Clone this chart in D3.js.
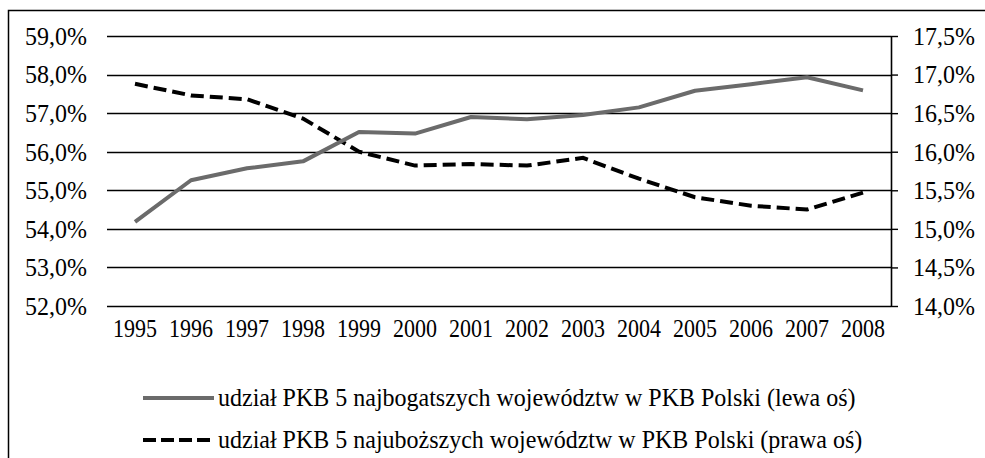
<!DOCTYPE html>
<html>
<head>
<meta charset="utf-8">
<script src="https://cdn.jsdelivr.net/npm/d3@7"></script>
<style>
  body { margin: 0; background: #fff; }
  text { font-family: "Liberation Serif", "Times New Roman", serif; fill: #000; }
</style>
</head>
<body>
<div id="chart"></div>
<script>
var years = ["1995","1996","1997","1998","1999","2000","2001","2002","2003","2004","2005","2006","2007","2008"];
// left axis series (gray)
var richest = [54.18, 55.26, 55.57, 55.75, 56.51, 56.47, 56.90, 56.84, 56.95, 57.15, 57.58, 57.75, 57.93, 57.59];
// right axis series (dashed)
var poorest = [16.88, 16.73, 16.68, 16.43, 16.00, 15.82, 15.84, 15.82, 15.92, 15.65, 15.41, 15.30, 15.25, 15.47];
var leftTicks = [52, 53, 54, 55, 56, 57, 58, 59];
var rightTicks = [14.0, 14.5, 15.0, 15.5, 16.0, 16.5, 17.0, 17.5];
var legendLabels = [
  "udział PKB 5 najbogatszych województw w PKB Polski (lewa oś)",
  "udział PKB 5 najuboższych województw w PKB Polski (prawa oś)"
];

var W = 985, H = 458;
var margin = {top: 36, right: 94, bottom: 152, left: 107},
    width = W - margin.left - margin.right,
    height = H - margin.top - margin.bottom;

var svg = d3.select("#chart").append("svg")
    .attr("width", W)
    .attr("height", H);

// outer frame, runs off the right and bottom edge
svg.append("rect")
    .attr("x", 8.5).attr("y", 10.5)
    .attr("width", W + 20).attr("height", H + 20)
    .attr("fill", "none")
    .attr("stroke", "#000")
    .attr("stroke-width", 1.5);

var g = svg.append("g")
    .attr("transform", "translate(" + margin.left + "," + margin.top + ")");

var xScale = d3.scaleBand().domain(years).range([0, width]),
    yLeft = d3.scaleLinear().domain([52, 59]).range([height, 0]),
    yRight = d3.scaleLinear().domain([14, 17.5]).range([height, 0]);

var fmt = function(n) { return n.toFixed(1).replace(".", ",") + "%"; };

// gridlines
g.selectAll(".grid")
    .data(leftTicks)
    .enter().append("line")
    .attr("class", "grid")
    .attr("x1", 0).attr("x2", width)
    .attr("y1", function(d) { return Math.round(yLeft(d)) + 0.5; })
    .attr("y2", function(d) { return Math.round(yLeft(d)) + 0.5; })
    .attr("stroke", "#000")
    .attr("stroke-width", 1.4);

// left axis: labels only
var left = g.append("g")
    .attr("class", "y axis")
    .call(d3.axisLeft(yLeft).tickValues(leftTicks).tickFormat(fmt).tickSize(0).tickPadding(20));
left.select(".domain").remove();

// right axis with line and outer ticks
var right = g.append("g")
    .attr("class", "y2 axis")
    .attr("transform", "translate(" + width + ",0)")
    .call(d3.axisRight(yRight).tickValues(rightTicks).tickFormat(fmt).tickSize(7).tickSizeOuter(0).tickPadding(15));
right.select(".domain").attr("stroke-width", 1.6);
right.selectAll(".tick line").attr("stroke-width", 1.4);

// x axis labels
var xAxis = g.append("g")
    .attr("class", "x axis")
    .attr("transform", "translate(0," + height + ")")
    .call(d3.axisBottom(xScale).tickSize(0).tickPadding(12));
xAxis.select(".domain").remove();

svg.selectAll(".y.axis text, .y2.axis text")
    .style("font-size", "24px")
    .attr("transform", "scale(1,1.08)");
xAxis.selectAll("text")
    .style("font-size", "22px")
    .attr("transform", "scale(1,1.12)");

var cx = function(i) { return xScale(years[i]) + xScale.bandwidth() / 2; };

var lineLeft = d3.line()
    .x(function(d, i) { return cx(i); })
    .y(function(d) { return yLeft(d); });

var lineRight = d3.line()
    .x(function(d, i) { return cx(i); })
    .y(function(d) { return yRight(d); });

g.append("path")
    .datum(poorest)
    .attr("d", lineRight)
    .attr("fill", "none")
    .attr("stroke", "#000")
    .attr("stroke-width", 4)
    .attr("stroke-dasharray", "13,6");

g.append("path")
    .datum(richest)
    .attr("d", lineLeft)
    .attr("fill", "none")
    .attr("stroke", "#6b6b6b")
    .attr("stroke-width", 4)
    .attr("stroke-linejoin", "round");

// legend
var legend = svg.append("g").attr("transform", "translate(143,398)");
var items = legend.selectAll(".item")
    .data(legendLabels)
    .enter().append("g")
    .attr("class", "item")
    .attr("transform", function(d, i) { return "translate(0," + (i * 42) + ")"; });

items.append("line")
    .attr("x1", 0).attr("x2", 71)
    .attr("stroke", function(d, i) { return i === 0 ? "#6b6b6b" : "#000"; })
    .attr("stroke-width", 4)
    .attr("stroke-dasharray", function(d, i) { return i === 0 ? null : "13,5"; });

items.append("text")
    .attr("x", 75)
    .attr("dy", "0.33em")
    .style("font-size", "24px")
    .attr("transform", "scale(1,1.05)")
    .text(function(d) { return d; });
</script>
</body>
</html>
